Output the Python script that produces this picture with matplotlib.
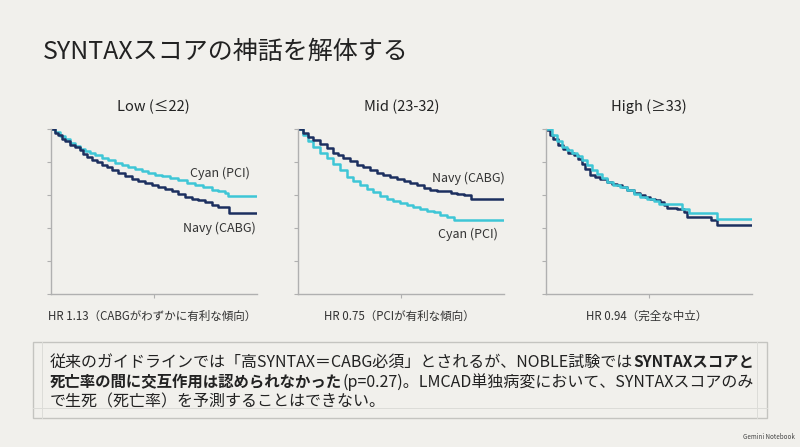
import matplotlib
matplotlib.use("Agg")
import matplotlib.pyplot as plt
from matplotlib.patches import Rectangle

plt.rcParams['font.family'] = ['Noto Sans CJK JP', 'DejaVu Sans']

W, H = 800, 447
BG = "#f1f0ec"
NAVY = "#1c2f5f"
CYAN = "#3ec6d6"
TXT = "#222222"

# ---- data ----
panel_titles = ["Low (≤22)", "Mid (23-32)", "High (≥33)"]
panel_notes = ["HR 1.13（CABGがわずかに有利な傾向）", "HR 0.75（PCIが有利な傾向）", "HR 0.94（完全な中立）"]

# survival curves: time (0-10) / survival fraction
low_cyan_t = [0, 0.21, 0.45, 0.69, 0.94, 1.18, 1.42, 1.67, 1.91, 2.15, 2.48, 2.80, 3.12, 3.45, 3.77,
              4.09, 4.42, 4.74, 5.06, 5.39, 5.79, 6.19, 6.60, 7.00, 7.41, 7.82, 8.14, 8.46, 8.62, 10]
low_cyan_s = [1.0, 0.982, 0.958, 0.937, 0.917, 0.897, 0.881, 0.867, 0.853, 0.840, 0.824, 0.810, 0.796, 0.784, 0.772,
              0.760, 0.745, 0.733, 0.723, 0.713, 0.701, 0.689, 0.675, 0.661, 0.646, 0.632, 0.622, 0.612, 0.596, 0.596]
low_navy_t = [0, 0.21, 0.37, 0.53, 0.69, 0.94, 1.18, 1.42, 1.58, 1.74, 1.99, 2.23, 2.48, 2.72, 2.96, 3.28,
              3.61, 3.93, 4.25, 4.58, 4.90, 5.22, 5.55, 5.87, 6.19, 6.52, 6.84, 7.17, 7.49, 7.82, 8.14, 8.67, 10]
low_navy_s = [1.0, 0.976, 0.962, 0.941, 0.925, 0.905, 0.891, 0.871, 0.851, 0.830, 0.814, 0.800, 0.784, 0.770, 0.754, 0.735,
              0.715, 0.699, 0.685, 0.673, 0.659, 0.646, 0.634, 0.624, 0.608, 0.588, 0.578, 0.568, 0.557, 0.537, 0.527, 0.493, 0.493]

mid_navy_t = [0, 0.23, 0.47, 0.72, 1.04, 1.37, 1.69, 1.94, 2.18, 2.51, 2.83, 3.16, 3.48, 3.80, 4.13,
              4.46, 4.78, 5.11, 5.43, 5.76, 6.08, 6.41, 6.73, 7.06, 7.39, 7.71, 8.04, 8.36, 10]
mid_navy_s = [1.0, 0.978, 0.952, 0.931, 0.911, 0.885, 0.857, 0.844, 0.824, 0.804, 0.784, 0.768, 0.750, 0.733, 0.719,
              0.709, 0.699, 0.687, 0.675, 0.659, 0.642, 0.630, 0.626, 0.622, 0.614, 0.606, 0.598, 0.578, 0.578]
mid_cyan_t = [0, 0.23, 0.47, 0.72, 1.04, 1.37, 1.69, 2.02, 2.34, 2.67, 3.00, 3.32, 3.64, 3.97, 4.29,
              4.62, 4.94, 5.27, 5.59, 5.92, 6.24, 6.57, 6.89, 7.22, 7.54, 10]
mid_cyan_s = [1.0, 0.962, 0.925, 0.891, 0.857, 0.824, 0.790, 0.750, 0.709, 0.683, 0.659, 0.638, 0.618, 0.594, 0.574,
              0.564, 0.554, 0.541, 0.527, 0.513, 0.501, 0.497, 0.477, 0.467, 0.446, 0.446]

high_navy_t = [0, 0.21, 0.37, 0.62, 0.86, 1.10, 1.35, 1.59, 1.75, 1.91, 2.16, 2.40, 2.65, 2.97, 3.21, 3.46,
               3.70, 3.94, 4.27, 4.59, 4.84, 5.08, 5.32, 5.57, 5.73, 5.89, 6.38, 6.70, 6.87, 8.00, 8.33, 10]
high_navy_s = [0.992, 0.966, 0.941, 0.905, 0.877, 0.857, 0.840, 0.816, 0.790, 0.760, 0.723, 0.709, 0.695, 0.679, 0.669, 0.663,
               0.648, 0.628, 0.614, 0.598, 0.588, 0.578, 0.568, 0.557, 0.537, 0.521, 0.513, 0.497, 0.467, 0.446, 0.420, 0.420]
high_cyan_t = [0, 0.29, 0.53, 0.78, 1.02, 1.26, 1.51, 1.75, 1.99, 2.24, 2.48, 2.73, 2.97, 3.29, 3.62,
               3.94, 4.27, 4.59, 4.92, 5.24, 5.49, 6.62, 6.95, 8.33, 10]
high_cyan_s = [1.0, 0.962, 0.925, 0.891, 0.871, 0.857, 0.836, 0.810, 0.784, 0.750, 0.729, 0.703, 0.679, 0.663, 0.648,
               0.628, 0.608, 0.588, 0.574, 0.562, 0.547, 0.513, 0.493, 0.453, 0.453]

curves = [
    [(low_cyan_t, low_cyan_s, CYAN), (low_navy_t, low_navy_s, NAVY)],
    [(mid_cyan_t, mid_cyan_s, CYAN), (mid_navy_t, mid_navy_s, NAVY)],
    [(high_navy_t, high_navy_s, NAVY), (high_cyan_t, high_cyan_s, CYAN)],
]
# in-plot labels: (text, x, y) in data units, right aligned
curve_labels = [
    [("Cyan (PCI)", 9.65, 0.73), ("Navy (CABG)", 9.95, 0.40)],
    [("Navy (CABG)", 10.0, 0.70), ("Cyan (PCI)", 9.7, 0.36)],
    [],
]

body_lines = [
    [("従来のガイドラインでは「高SYNTAX＝CABG必須」とされるが、NOBLE試験では", "normal"),
     ("SYNTAXスコアと", "bold")],
    [("死亡率の間に交互作用は認められなかった", "bold"),
     ("(p=0.27)。LMCAD単独病変において、SYNTAXスコアのみ", "normal")],
    [("で生死（死亡率）を予測することはできない。", "normal")],
]

fig = plt.figure(figsize=(W / 100, H / 100), dpi=100)
fig.patch.set_facecolor(BG)


def px_axes(left, top, right, bottom):
    return fig.add_axes([left / W, 1 - bottom / H, (right - left) / W, (bottom - top) / H])


# overlay in pixel coords
ov = fig.add_axes([0, 0, 1, 1])
ov.set_xlim(0, W)
ov.set_ylim(H, 0)
ov.axis("off")
ov.set_zorder(5)
ov.patch.set_alpha(0)

ov.text(43, 52, "SYNTAXスコアの神話を解体する", fontsize=18, color=TXT, va="center", ha="left")

panel_lefts = [50.7, 298.3, 545.7]
panel_w = 206
for i in range(3):
    ax = px_axes(panel_lefts[i], 129, panel_lefts[i] + panel_w, 294)
    ax.set_facecolor("none")
    for t, s, c in curves[i]:
        ax.step(t, s, where="post", color=c, lw=1.8)
    ax.set_xlim(0, 10)
    ax.set_ylim(0, 1.0)
    ax.set_yticks([0, 0.2, 0.4, 0.6, 0.8, 1.0])
    ax.set_xticks([5])
    ax.set_yticklabels([])
    ax.set_xticklabels([])
    ax.tick_params(length=3, width=0.8, color="#b0b0b0")
    for side in ["top", "right"]:
        ax.spines[side].set_visible(False)
    for side in ["left", "bottom"]:
        ax.spines[side].set_color("#b0b0b0")
        ax.spines[side].set_linewidth(1.0)
    for txt, x, y in curve_labels[i]:
        ax.text(x, y, txt, fontsize=9, color="#333333", ha="right", va="center")
    cx = panel_lefts[i] + panel_w / 2
    ov.text(cx, 107, panel_titles[i], fontsize=10.5, color=TXT, ha="center", va="center")
    ov.text(cx - 2, 316, panel_notes[i], fontsize=8.3, color="#333333", ha="center", va="center")

# bottom box
ov.add_patch(Rectangle((33, 342), 734, 76, facecolor="none", edgecolor="#c4c4c0", lw=1.0))
ov.plot([33, 767], [408, 408], color="#dcdcd8", lw=0.7)
ov.plot([42, 42], [342, 418], color="#dcdcd8", lw=0.7)
ov.plot([757, 757], [342, 418], color="#dcdcd8", lw=0.7)

renderer = fig.canvas.get_renderer()
body_size = {"normal": 11.5, "bold": 11.1}
y = 362
for line in body_lines:
    x = 50
    for seg, weight in line:
        t = ov.text(x, y, seg, fontsize=body_size[weight], fontweight=weight, color=TXT,
                    ha="left", va="center")
        bb = t.get_window_extent(renderer)
        x += bb.width
    y += 20

ov.text(795, 437, "Gemini Notebook", fontsize=4.5, color="#444444", ha="right", va="center")

fig.savefig("out.png", dpi=100, facecolor=fig.get_facecolor())
